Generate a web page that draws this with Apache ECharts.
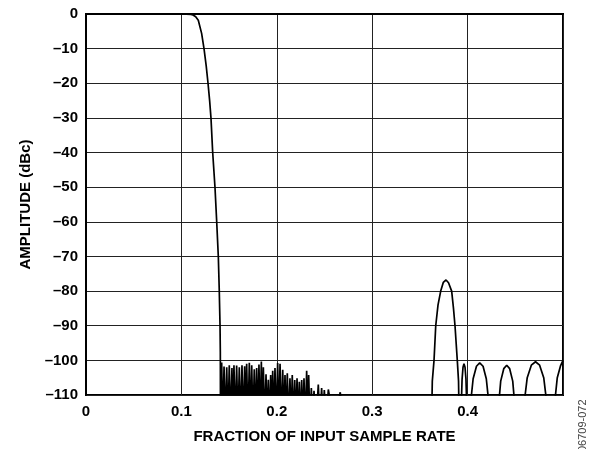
<!DOCTYPE html>
<html>
<head>
<meta charset="utf-8">
<script src="https://cdn.jsdelivr.net/npm/echarts@6/dist/echarts.min.js"></script>
<style>
html, body { margin: 0; padding: 0; background: #fff; }
#main { width: 592px; height: 449px; }
</style>
</head>
<body>
<div id="main"></div>
<script>
// tick values
var xTicks = [0, 0.1, 0.2, 0.3, 0.4];
var yMin = -110, yMax = 0;

// passband + transition
var passFreq = [0, 0.05, 0.1, 0.110, 0.1122, 0.1150, 0.1177, 0.1212, 0.1237, 0.1260, 0.1279, 0.1296,
    0.1310, 0.1328, 0.1352, 0.1370, 0.1387, 0.1397, 0.1405, 0.1408, 0.1410];
var passDb = [0, 0, 0, -0.1, -0.3, -0.8, -1.8, -5.6, -10, -15, -20, -25,
    -30, -40, -50, -60, -70, -80, -90, -97.6, -120];

// stopband ripples (null / peak pairs)
var stopFreq = [0.1414, 0.1422, 0.1434, 0.1447, 0.1461, 0.1475, 0.1488, 0.1502, 0.1516, 0.1530,
    0.1540, 0.1551, 0.1565, 0.1579, 0.1593, 0.1607, 0.1621, 0.1635, 0.1649, 0.1663,
    0.1673, 0.1684, 0.1698, 0.1712, 0.1724, 0.1737, 0.1750, 0.1764, 0.1776, 0.1789,
    0.1801, 0.1813, 0.1825, 0.1838, 0.1848, 0.1859, 0.1873, 0.1887, 0.1899, 0.1911,
    0.1923, 0.1936, 0.1946, 0.1957, 0.1969, 0.1981, 0.1995, 0.2009, 0.2021, 0.2034,
    0.2048, 0.2062, 0.2074, 0.2086, 0.2098, 0.2110, 0.2124, 0.2138, 0.2150, 0.2162,
    0.2175, 0.2188, 0.2200, 0.2212, 0.2224, 0.2236, 0.2248, 0.2261, 0.2273, 0.2285,
    0.2299, 0.2313, 0.2323, 0.2334, 0.2348, 0.2362, 0.2376, 0.2390, 0.2412, 0.2435,
    0.2452, 0.2470, 0.2484, 0.2498, 0.2519, 0.2540, 0.2600, 0.2665, 0.2700];
var stopDb = [-118, -100.6, -118, -101.8, -118, -102.0, -118, -101.4, -118, -102.2,
    -118, -101.4, -118, -101.5, -118, -102.0, -118, -101.4, -118, -101.7,
    -118, -101.0, -118, -100.7, -118, -101.4, -118, -102.6, -118, -102.2,
    -118, -101.2, -118, -100.3, -118, -102.0, -118, -104.0, -118, -105.6,
    -118, -104.2, -118, -103.0, -118, -102.2, -118, -100.8, -118, -101.0,
    -118, -102.7, -118, -104.2, -118, -103.7, -118, -105.2, -118, -104.2,
    -118, -105.7, -118, -105.2, -118, -106.2, -118, -105.7, -118, -105.2,
    -118, -103.0, -118, -104.2, -118, -108.0, -118, -108.8, -118, -107.0,
    -118, -108.0, -118, -108.6, -118, -108.4, -118, -109.2, -118];

// image band and side lobes
var imageFreq = [0.3618, 0.3630, 0.3648, 0.3666, 0.3690, 0.3718, 0.3745, 0.3774, 0.3800, 0.3833,
    0.3852, 0.3868, 0.3892, 0.3905, 0.3916,
    0.3928, 0.3934, 0.3942, 0.3952, 0.3962, 0.3973, 0.3983, 0.3991, 0.3997,
    0.4012, 0.4030, 0.4058, 0.4093, 0.4127, 0.4162, 0.4196, 0.4224, 0.4242,
    0.4305, 0.4322, 0.4347, 0.4379, 0.4410, 0.4441, 0.4473, 0.4498, 0.4515,
    0.4567, 0.4590, 0.4625, 0.4668, 0.4712, 0.4755, 0.4798, 0.4833, 0.4856,
    0.4892, 0.4910, 0.4940, 0.4975, 0.5];
var imageDb = [-125, -106, -100, -90, -84, -80, -77.5, -76.8, -77.6, -80,
    -85, -90, -100, -106, -125,
    -130, -113, -105.5, -102, -101, -102, -105.5, -113, -130,
    -130, -112.7, -105.3, -101.7, -100.7, -101.7, -105.3, -112.7, -130,
    -130, -114, -106, -102.4, -101.4, -102.4, -106, -114, -130,
    -130, -113, -105, -101.4, -100.4, -101.4, -105, -113, -130,
    -130, -113, -105, -101.5, -100];

function pairs(fx, db) {
    var out = [];
    for (var i = 0; i < fx.length; i++) {
        out.push([fx[i], db[i]]);
    }
    return out;
}
var lineData = pairs(passFreq, passDb).concat(pairs(stopFreq, stopDb), pairs(imageFreq, imageDb));

var font = 'Liberation Sans, Arial, sans-serif';
var myChart = echarts.init(document.getElementById('main'), null, {renderer: 'canvas'});
var option = {
    animation: false,
    grid: {
        left: 86, right: 29, top: 14, bottom: 54,
        show: true, borderColor: '#000', borderWidth: 2, backgroundColor: '#fff'
    },
    xAxis: {
        type: 'value',
        min: 0, max: 0.5, interval: 0.1,
        name: 'FRACTION OF INPUT SAMPLE RATE',
        nameLocation: 'middle', nameGap: 34,
        nameTextStyle: {fontFamily: font, fontWeight: 'bold', fontSize: 15, color: '#000'},
        axisLine: {show: true, lineStyle: {color: '#000', width: 2}},
        axisTick: {show: false},
        axisLabel: {
            margin: 9, fontFamily: font, fontWeight: 'bold', fontSize: 15, color: '#000',
            formatter: function (v) {
                for (var i = 0; i < xTicks.length; i++) {
                    if (Math.abs(xTicks[i] - v) < 1e-9) return String(xTicks[i]);
                }
                return '';
            }
        },
        splitLine: {show: true, lineStyle: {color: '#222', width: 1}}
    },
    yAxis: {
        type: 'value',
        min: yMin, max: yMax, interval: 10,
        name: 'AMPLITUDE (dBc)',
        nameLocation: 'middle', nameGap: 52,
        nameTextStyle: {fontFamily: font, fontWeight: 'bold', fontSize: 15, color: '#000'},
        axisLine: {show: true, lineStyle: {color: '#000', width: 2}},
        axisTick: {show: false},
        axisLabel: {
            margin: 8, fontFamily: font, fontWeight: 'bold', fontSize: 15, color: '#000',
            formatter: function (v) {
                return v < 0 ? '\u2013' + Math.abs(v) : String(v);
            }
        },
        splitLine: {show: true, lineStyle: {color: '#222', width: 1}}
    },
    graphic: [{
        type: 'text',
        x: 583, y: 452,
        rotation: Math.PI / 2,
        style: {
            text: '06709-072', fill: '#444',
            font: '11px Liberation Sans, Arial, sans-serif',
            textAlign: 'left', textVerticalAlign: 'middle'
        }
    }],
    series: [{
        type: 'line',
        data: lineData,
        showSymbol: false,
        clip: true,
        lineStyle: {color: '#000', width: 1.7},
        z: 3
    }]
};
myChart.setOption(option);
</script>
</body>
</html>
